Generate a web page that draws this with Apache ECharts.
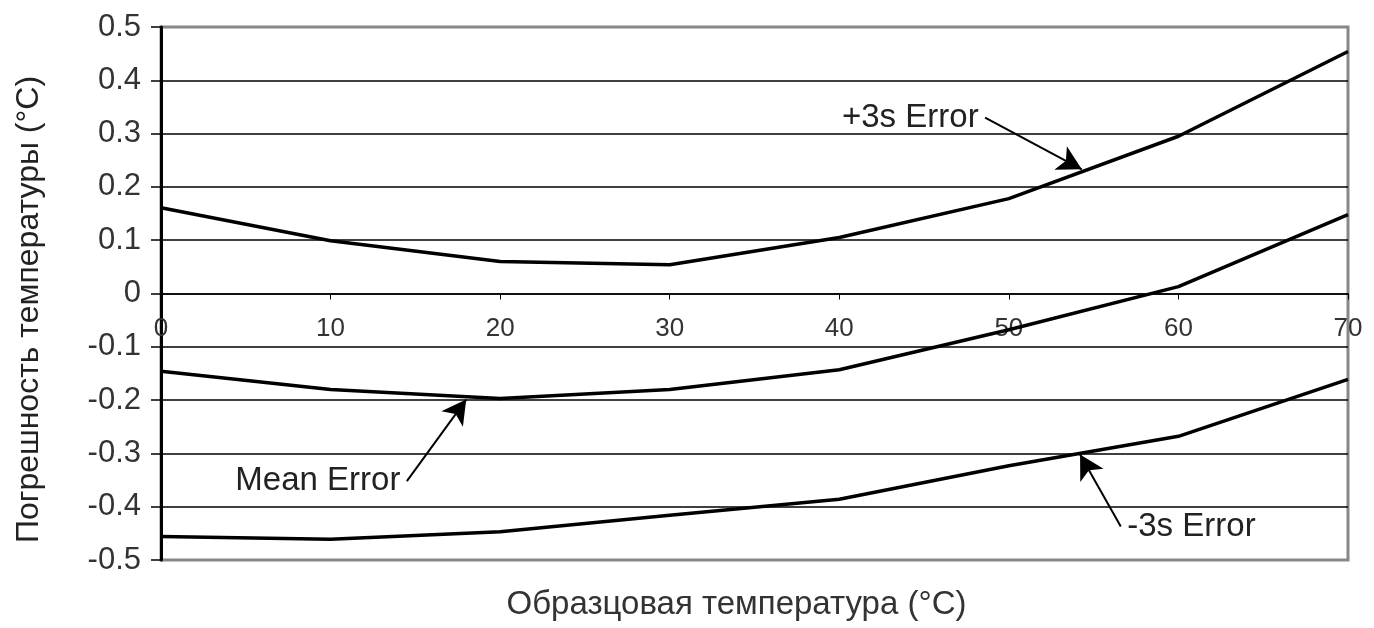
<!DOCTYPE html>
<html>
<head>
<meta charset="utf-8">
<script src="https://cdn.jsdelivr.net/npm/echarts@6/dist/echarts.min.js"></script>
<style>html,body{margin:0;padding:0;background:#fff;}#c{width:1374px;height:628px;}</style>
</head>
<body>
<div id="c"></div>
<script>
const xValues = [0, 10, 20, 30, 40, 50, 60, 70];
const plus3s = [0.161, 0.099, 0.060, 0.054, 0.105, 0.178, 0.295, 0.454];
const meanErr = [-0.146, -0.180, -0.197, -0.180, -0.143, -0.068, 0.013, 0.148];
const minus3s = [-0.456, -0.461, -0.447, -0.416, -0.386, -0.323, -0.268, -0.161];
const xTitle = 'Образцовая температура (°C)';
const yTitle = 'Погрешность температуры (°C)';
// annotation arrows: label text, arrow start [x,y], arrow end [x,y] (data units)
const annPlus = { text: '+3s Error', from: [48.6, 0.330], to: [54.3, 0.233], pos: 'left' };
const annMean = { text: 'Mean Error', from: [14.5, -0.352], to: [18.0, -0.199], pos: 'left' };
const annMinus = { text: '-3s Error', from: [56.6, -0.437], to: [54.2, -0.302], pos: 'right' };

const FONT = '"Liberation Sans", Arial, sans-serif';
const pair = (xs, ys) => xs.map((x, i) => [x, ys[i]]);

function annotation(a) {
  return {
    type: 'line', data: [], silent: true,
    markLine: {
      silent: true, symbol: ['none', 'arrow'], symbolSize: [20, 24],
      lineStyle: { color: '#000', width: 2, type: 'solid' },
      label: { show: false },
      data: [[{ coord: a.from }, { coord: a.to }]]
    },
    markPoint: {
      silent: true, symbol: 'circle', symbolSize: 1,
      itemStyle: { color: 'rgba(0,0,0,0)' },
      label: { show: true, position: a.pos, distance: 6, formatter: a.text,
        fontFamily: FONT, fontSize: 33, color: '#222' },
      data: [{ coord: a.from }]
    }
  };
}

const chart = echarts.init(document.getElementById('c'), null, { renderer: 'canvas' });
const lineSeries = (ys) => ({
  type: 'line', data: pair(xValues, ys), symbol: 'none', smooth: false,
  lineStyle: { color: '#000', width: 3.5 }, silent: true, z: 3
});

const TOP = 27, BOTTOM = 68, H = 628 - TOP - BOTTOM;
const splitColors = ['#888', '#000', '#000', '#000', '#000', '#000', '#000', '#000', '#000', '#000', '#888'];

chart.setOption({
  animation: false,
  backgroundColor: '#fff',
  grid: { left: 161, right: 26, top: TOP, bottom: BOTTOM, show: true, outerBoundsMode: 'none', containLabel: false,
    borderColor: '#888', borderWidth: 3, backgroundColor: '#fff' },
  xAxis: [{
    type: 'value', min: 0, max: 70, interval: 10, position: 'bottom', offset: -H / 2,
    axisLine: { onZero: false, lineStyle: { color: '#000', width: 1.5 } },
    axisTick: { show: true, length: 6, lineStyle: { color: '#000' } },
    axisLabel: { fontFamily: FONT, fontSize: 26, color: '#333', margin: 22, showMaxLabel: true, showMinLabel: true },
    splitLine: { show: false }
  }, {
    type: 'value', min: 0, max: 70, position: 'bottom',
    axisLine: { show: false, onZero: false }, axisTick: { show: false }, axisLabel: { show: false },
    splitLine: { show: false },
    name: xTitle, nameLocation: 'middle', nameGap: 28,
    nameTextStyle: { fontFamily: FONT, fontSize: 33, color: '#333', padding: [0, 36, 0, 0] }
  }],
  yAxis: {
    type: 'value', min: -0.5, max: 0.5, interval: 0.1,
    name: yTitle, nameLocation: 'middle', nameGap: 116, nameRotate: 90,
    nameTextStyle: { fontFamily: FONT, fontSize: 32, color: '#222', padding: [0, 32, 0, 0] },
    axisLine: { show: true, onZero: false, lineStyle: { color: '#000', width: 3 } },
    axisTick: { show: true, length: 10, lineStyle: { color: '#000', width: 1.5 } },
    axisLabel: { fontFamily: FONT, fontSize: 31, color: '#333', margin: 20,
      formatter: v => Math.abs(v) < 1e-9 ? '0' : v.toFixed(1) },
    splitLine: { show: true, lineStyle: { color: splitColors, width: 1.5 } }
  },
  series: [
    lineSeries(plus3s),
    lineSeries(meanErr),
    lineSeries(minus3s),
    annotation(annPlus),
    annotation(annMean),
    annotation(annMinus)
  ]
});
</script>
</body>
</html>
